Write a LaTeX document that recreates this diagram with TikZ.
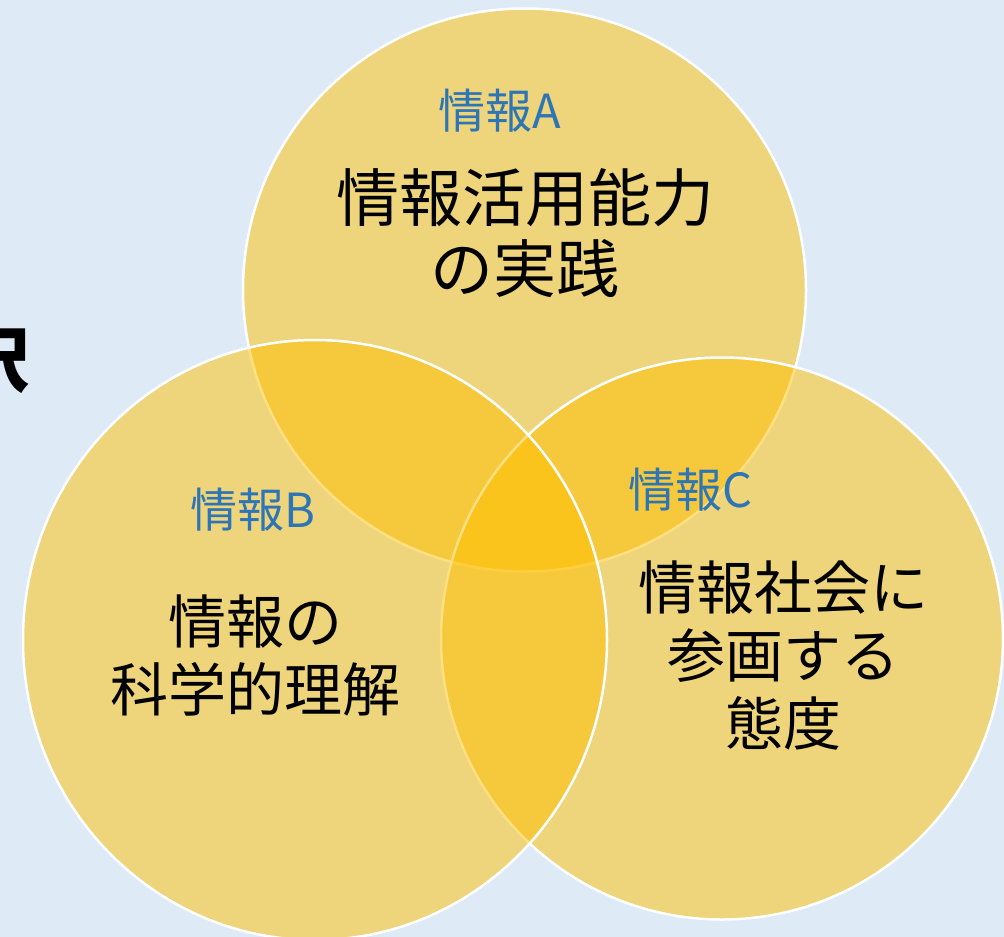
\documentclass[tikz,border=0pt]{standalone}
\usepackage{fontspec}
\newfontfamily\jp{Noto Sans CJK JP}
\definecolor{bgblue}{RGB}{222,234,246}
\definecolor{gold}{RGB}{255,192,0}
\definecolor{lblue}{RGB}{46,117,182}
\begin{document}
\begin{tikzpicture}[x=1pt,y=-1pt,
  circ/.style={fill=gold, fill opacity=0.5, draw=white, draw opacity=1, line width=2.5pt},
  lab/.style={text=lblue, inner sep=0pt, font=\jp\fontsize{47}{52}\selectfont},
  bigtext/.style={text=black, inner sep=0pt, align=center, font=\jp\fontsize{63}{71}\selectfont},
  midtext/.style={text=black, inner sep=0pt, align=center, font=\jp\fontsize{58}{68}\selectfont}]
\useasboundingbox (0,0) rectangle (1004,937);
\clip (0,0) rectangle (1004,937);
\fill[bgblue] (0,0) rectangle (1004,937);
% partial title glyph at the left edge
\node[anchor=east, inner sep=0pt, font=\jp\bfseries\fontsize{72}{72}\selectfont] (cut) at (30,359) {択};
% circles: A, then C, then B
\draw[circ] (524.5,290) circle [radius=281.5pt];
\draw[circ] (722,638.5) circle [radius=281pt];
\draw[circ] (315,640) ellipse [x radius=292pt, y radius=300pt];
% labels
\node[lab] (la) at (500,111) {情報A};
\node[bigtext] (ta) at (525,233) {情報活用能力\\の実践};
\node[lab] (lb) at (253,510) {情報B};
\node[midtext] (tb) at (255,656) {情報の\\科学的理解};
\node[lab] (lc) at (690,490) {情報C};
\node[midtext] (tc) at (783,656) {情報社会に\\参画する\\態度};
\end{tikzpicture}
\end{document}
